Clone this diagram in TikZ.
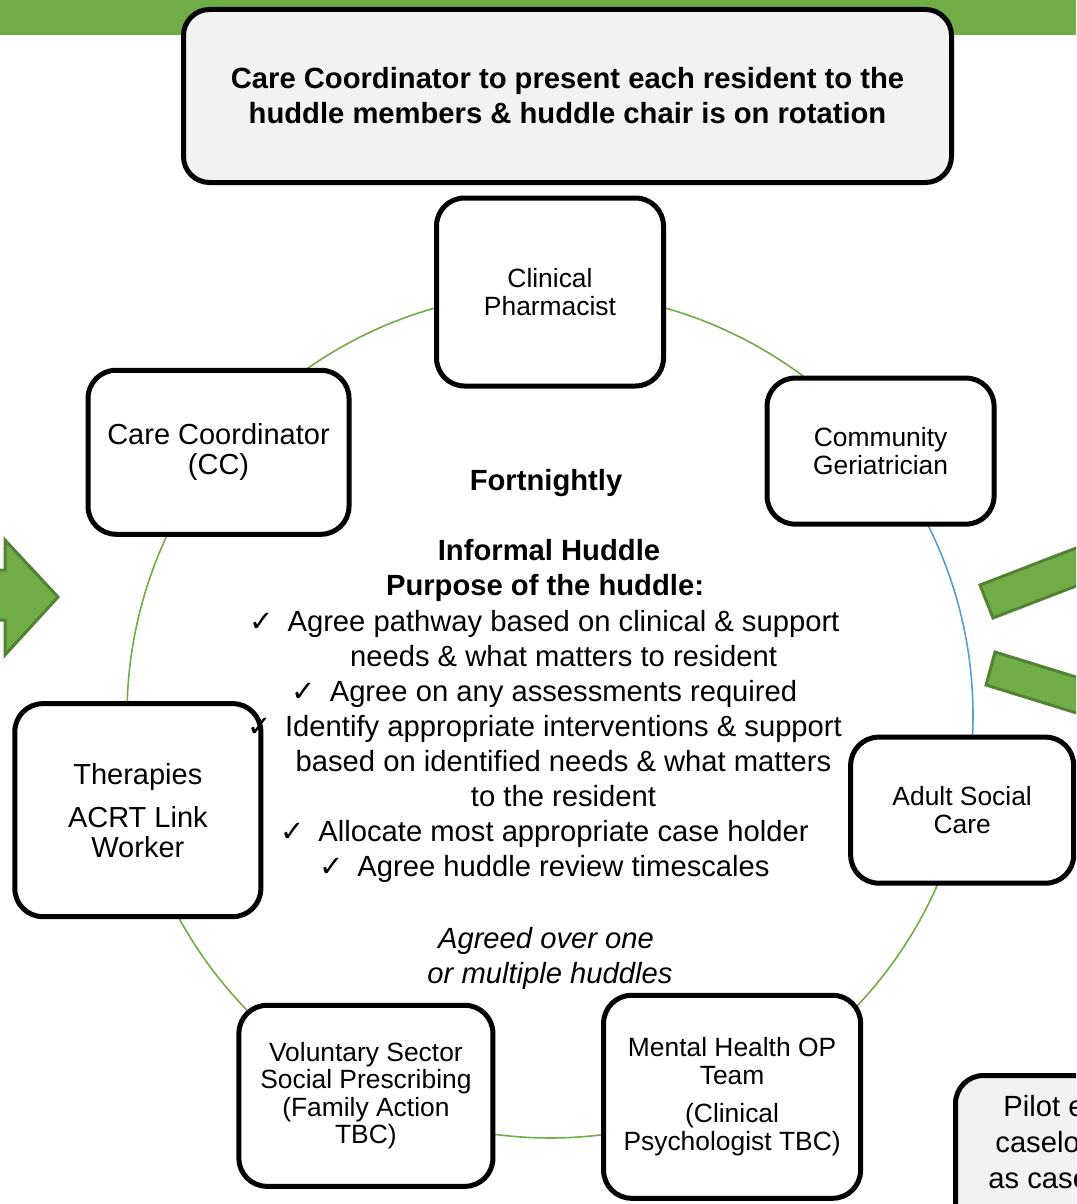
\documentclass[tikz,border=0pt]{standalone}
\usepackage{fontspec}
\setmainfont{Liberation Sans}
\newfontfamily\symfont{DejaVu Sans}
\usetikzlibrary{calc,backgrounds}
\definecolor{leaf}{HTML}{70AD47}
\definecolor{leafdark}{HTML}{548235}
\definecolor{sky}{HTML}{5B9BD5}
\definecolor{panel}{HTML}{F2F2F2}
\tikzset{
  member/.style={draw, line width=2.5pt, rounded corners=14pt, fill=white,
    align=center, inner sep=0pt, font=\fontsize{13.2}{14}\selectfont},
  bigmember/.style={member, font=\fontsize{14.5}{15}\selectfont},
  headbox/.style={draw, line width=2.5pt, rounded corners=13pt, fill=panel,
    align=center, inner sep=0pt, font=\bfseries\fontsize{14.6}{17.5}\selectfont},
  ring/.style={leaf, line width=0.8pt},
  ringblue/.style={sky, line width=0.8pt},
  bodytext/.style={anchor=base, inner sep=0pt, font=\fontsize{14.6}{17.5}\selectfont},
  headtext/.style={bodytext, font=\bfseries\fontsize{14.6}{17.5}\selectfont},
  notetext/.style={bodytext, font=\itshape\fontsize{14.6}{17.5}\selectfont},
  tick/.style={anchor=base east, inner sep=0pt, font=\symfont\fontsize{14.5}{14.5}\selectfont},
  bigarrow/.style={fill=leaf, draw=leafdark, line width=1.5pt, line join=miter}
}
\begin{document}
\begin{tikzpicture}[x=0.5pt,y=-0.5pt]
\useasboundingbox (0,0) rectangle (1076,1204);
\clip (0,0) rectangle (1076,1204);

% green band along the top edge
\fill[leaf] (0,0) rectangle (1076,35);

% header panel
\node[headbox, minimum width=384pt, minimum height=86.5pt] (hdr) at (567.5,96)
  {Care Coordinator to present each resident to the\\huddle members \& huddle chair is on rotation};

% side arrows
\draw[bigarrow] (-20,570) -- (5,570) -- (5,540) -- (58,597) -- (5,655) -- (5,620) -- (-20,620) -- cycle;
\draw[bigarrow] (980,585) -- (993,618) -- (1180,546) -- (1167,513) -- cycle;
\draw[bigarrow] (995,652) -- (986,685) -- (1177,744) -- (1186,711) -- cycle;

% huddle members placed on a circle
\coordinate (ctr) at (550,715);
\node[member, minimum width=113.5pt, minimum height=94pt] (cp) at ($(ctr)+(-90:423)$)
  {Clinical\\Pharmacist};
\node[member, minimum width=113.5pt, minimum height=73pt] (cg) at ($(ctr)+(-38.6:423)$)
  {Community\\Geriatrician};
\node[member, minimum width=111.5pt, minimum height=73pt] (asc) at ($(ctr)+(13:423)$)
  {Adult Social\\Care};
\node[member, minimum width=128.5pt, minimum height=101.5pt] (mh) at ($(ctr)+(64.5:423)$)
  {Mental Health OP\\Team\\[5pt](Clinical\\Psychologist TBC)};
\node[member, minimum width=127pt, minimum height=90.5pt, font=\fontsize{13.2}{13.75}\selectfont] (vs) at ($(ctr)+(115.8:423)$)
  {Voluntary Sector\\Social Prescribing\\(Family Action\\TBC)};
\node[bigmember, minimum width=123pt, minimum height=106.5pt] (th) at ($(ctr)+(167:423)$)
  {Therapies\\[6.5pt]ACRT Link\\Worker};
\node[bigmember, minimum width=130.5pt, minimum height=82pt] (cc) at ($(ctr)+(218.4:423)$)
  {Care Coordinator\\(CC)};

% ring joining the members
\begin{scope}[on background layer]
  \draw[ring]     (cp.center)  arc[start angle=-90,   end angle=-38.6, radius=423];
  \draw[ringblue] (cg.center)  arc[start angle=-38.6, end angle=13,    radius=423];
  \draw[ring]     (asc.center) arc[start angle=13,    end angle=64.5,  radius=423];
  \draw[ring]     (mh.center)  arc[start angle=64.5,  end angle=115.8, radius=423];
  \draw[ring]     (vs.center)  arc[start angle=115.8, end angle=167,   radius=423];
  \draw[ring]     (th.center)  arc[start angle=167,   end angle=218.4, radius=423];
  \draw[ring]     (cc.center)  arc[start angle=218.4, end angle=270,   radius=423];
\end{scope}

% centre text
\node[headtext] (freq) at (546,490) {Fortnightly};
\node[headtext] (kind) at (549,560) {Informal Huddle};
\node[headtext] (purp) at (545,595) {Purpose of the huddle:};
\node[bodytext] (p1) at (563.5,631) {Agree pathway based on clinical \& support};
\node[bodytext] (p1b) at (563.5,666) {needs \& what matters to resident};
\node[bodytext] (p2) at (563.5,701) {Agree on any assessments required};
\node[bodytext] (p3) at (563.5,736) {Identify appropriate interventions \& support};
\node[bodytext] (p3b) at (563.5,771) {based on identified needs \& what matters};
\node[bodytext] (p3c) at (563.5,806) {to the resident};
\node[bodytext] (p4) at (563.5,841) {Allocate most appropriate case holder};
\node[bodytext] (p5) at (563.5,876) {Agree huddle review timescales};
\foreach \item in {p1,p2,p3,p4,p5}
  \node[tick] at ([xshift=-6.5pt]\item.base west) {✓};
\node[notetext] (agr1) at (546,948) {Agreed over one};
\node[notetext] (agr2) at (550,983) {or multiple huddles};

% pilot panel at the lower right, running past the page edge
\draw[line width=2.5pt, rounded corners=14pt, fill=panel] (955.5,1075.5) rectangle (1250,1300);
\node[bodytext, anchor=base west] (pil1) at (1003,1116) {Pilot e};
\node[bodytext, anchor=base west] (pil2) at (995,1152) {caselo};
\node[bodytext, anchor=base west] (pil3) at (988,1188) {as case};
\end{tikzpicture}
\end{document}
